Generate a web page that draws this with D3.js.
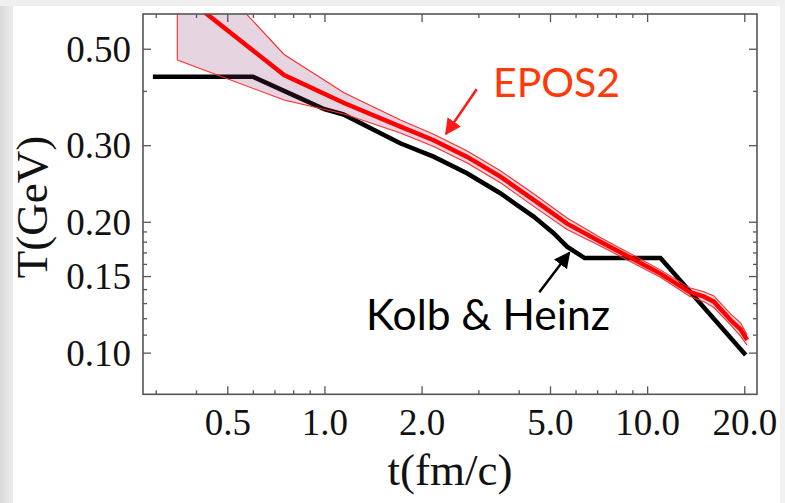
<!DOCTYPE html>
<html><head><meta charset="utf-8">
<script src="https://cdn.jsdelivr.net/npm/d3@7"></script>
<style>html,body{margin:0;padding:0;background:#efefef;overflow:hidden}</style>
</head><body>
<svg id="c" width="785" height="503"></svg>
<script>
// ---- data ----
const tMajor = [0.5, 1, 2, 5, 10, 20];
const tLabels = ["0.5", "1.0", "2.0", "5.0", "10.0", "20.0"];
const tMinor = [0.3, 0.4, 0.6, 0.7, 0.8, 0.9, 3, 4, 6, 7, 8, 9];
const TMajor = [0.10, 0.15, 0.20, 0.30, 0.50];
const TLabels = ["0.10", "0.15", "0.20", "0.30", "0.50"];
const TMinor = [0.11, 0.12, 0.13, 0.14, 0.16, 0.17, 0.18, 0.19, 0.40];

// Kolb & Heinz
const kolbTime = [0.294, 0.6, 0.84, 1.0, 1.145, 1.717, 2.178, 2.765, 3.508, 4.449, 5.131, 5.648, 6.4, 11.0, 20.2];
const kolbTemp = [0.431, 0.431, 0.385, 0.363, 0.353, 0.303, 0.2823, 0.2585, 0.2326, 0.2055, 0.1882, 0.1753, 0.165, 0.165, 0.0988];

// EPOS2
const eposTime = [0.35, 0.75, 1.15, 1.72, 2.18, 2.77, 3.51, 4.45, 5.65, 7.16, 11.0, 13.5, 15.0, 16.1, 18.1, 19.5, 20.4];
const eposMid  = [0.68, 0.435, 0.375, 0.331, 0.308, 0.282, 0.254, 0.2245, 0.198, 0.18, 0.152, 0.138, 0.1345, 0.131, 0.119, 0.113, 0.107];
const eposHigh = [0.89, 0.485, 0.396, 0.343, 0.318, 0.291, 0.262, 0.232, 0.204, 0.184, 0.155, 0.141, 0.138, 0.135, 0.123, 0.117, 0.110];
const eposLow  = [0.471, 0.381, 0.354, 0.320, 0.298, 0.273, 0.246, 0.217, 0.192, 0.176, 0.149, 0.135, 0.131, 0.127, 0.116, 0.109, 0.104];

// ---- layout ----
const svg = d3.select("#c");
const L = 143, R = 757, T = 14, B = 394.3;
const x = d3.scaleLog().domain([0.274, 21.9]).range([L, R]);
const y = d3.scaleLog().domain([0.0802, 0.601]).range([B, T]);

// background
const defs = svg.append("defs");
const lg = defs.append("linearGradient").attr("id", "lg");
lg.append("stop").attr("offset", "0").attr("stop-color", "#d9d9d9");
lg.append("stop").attr("offset", "1").attr("stop-color", "#ececec");
svg.append("rect").attr("x", 0).attr("y", 0).attr("width", 785).attr("height", 503).attr("fill", "#f0f0f0");
svg.append("rect").attr("x", 0).attr("y", 6).attr("width", 13).attr("height", 497).attr("fill", "url(#lg)");
svg.append("rect").attr("x", 13).attr("y", 6).attr("width", 767).attr("height", 497).attr("fill", "#ffffff");

defs.append("clipPath").attr("id", "clip").append("rect")
  .attr("x", L).attr("y", T).attr("width", R - L).attr("height", B - T);

const plot = svg.append("g").attr("clip-path", "url(#clip)");

const line = (xs, ys) => d3.line().x((d, i) => x(xs[i])).y((d, i) => y(ys[i]))(xs);

// black line (under band)
plot.append("path").attr("d", line(kolbTime, kolbTemp))
  .attr("fill", "none").attr("stroke", "#000").attr("stroke-width", 4.5).attr("stroke-linejoin", "miter");

// band
const area = d3.area().x((d, i) => x(eposTime[i])).y0((d, i) => y(eposLow[i])).y1((d, i) => y(eposHigh[i]));
plot.append("path").attr("d", area(eposTime))
  .attr("fill", "#802a64").attr("fill-opacity", 0.2).attr("stroke", "none");
// band edges
plot.append("path").attr("d", line(eposTime, eposHigh)).attr("fill", "none").attr("stroke", "#ff2a2a").attr("stroke-width", 1.1);
plot.append("path").attr("d", line(eposTime, eposLow)).attr("fill", "none").attr("stroke", "#ff2a2a").attr("stroke-width", 1.1);
plot.append("path").attr("d", `M${x(eposTime[0])},${y(eposHigh[0])}L${x(eposTime[0])},${y(eposLow[0])}`)
  .attr("stroke", "#ff2a2a").attr("stroke-width", 1.1);
// central red
plot.append("path").attr("d", line(eposTime, eposMid))
  .attr("fill", "none").attr("stroke", "#ff0000").attr("stroke-width", 4.5);

// ---- axes ----
const axCol = "#555";
const serif = "'Liberation Serif','Times New Roman',serif";
function styleAxis(g) {
  g.select(".domain").remove();
  g.selectAll("line").attr("stroke", axCol).attr("stroke-width", 1.3);
}
// bottom
const gb = svg.append("g").attr("transform", `translate(0,${B})`)
  .call(d3.axisBottom(x).tickValues(tMajor).tickSizeInner(-8).tickSizeOuter(0).tickPadding(14)
    .tickFormat((d, i) => tLabels[i]));
styleAxis(gb);
gb.selectAll("text").attr("font-family", serif).attr("font-size", 37).attr("fill", "#111").attr("dy", "0.71em");
const gbm = svg.append("g").attr("transform", `translate(0,${B})`)
  .call(d3.axisBottom(x).tickValues(tMinor).tickSizeInner(-4).tickSizeOuter(0).tickFormat(""));
styleAxis(gbm);
// top
const gt = svg.append("g").attr("transform", `translate(0,${T})`)
  .call(d3.axisTop(x).tickValues(tMajor).tickSizeInner(-8).tickSizeOuter(0).tickFormat(""));
styleAxis(gt);
const gtm = svg.append("g").attr("transform", `translate(0,${T})`)
  .call(d3.axisTop(x).tickValues(tMinor).tickSizeInner(-4).tickSizeOuter(0).tickFormat(""));
styleAxis(gtm);
// left
const gl = svg.append("g").attr("transform", `translate(${L},0)`)
  .call(d3.axisLeft(y).tickValues(TMajor).tickSizeInner(-8).tickSizeOuter(0).tickPadding(12)
    .tickFormat((d, i) => TLabels[i]));
styleAxis(gl);
gl.selectAll("text").attr("font-family", serif).attr("font-size", 37).attr("fill", "#111").attr("dy", "0.34em");
const glm = svg.append("g").attr("transform", `translate(${L},0)`)
  .call(d3.axisLeft(y).tickValues(TMinor).tickSizeInner(-4).tickSizeOuter(0).tickFormat(""));
styleAxis(glm);
// right
const gr = svg.append("g").attr("transform", `translate(${R},0)`)
  .call(d3.axisRight(y).tickValues(TMajor).tickSizeInner(-8).tickSizeOuter(0).tickFormat(""));
styleAxis(gr);
const grm = svg.append("g").attr("transform", `translate(${R},0)`)
  .call(d3.axisRight(y).tickValues(TMinor).tickSizeInner(-4).tickSizeOuter(0).tickFormat(""));
styleAxis(grm);

// frame
svg.append("rect").attr("x", L).attr("y", T).attr("width", R - L).attr("height", B - T)
  .attr("fill", "none").attr("stroke", axCol).attr("stroke-width", 1.6);

// axis titles
svg.append("text").attr("x", 450).attr("y", 485).attr("text-anchor", "middle")
  .attr("font-family", serif).attr("font-size", 45).attr("fill", "#111")
  .text("t(fm/c)");
svg.append("text").attr("transform", "translate(47,207) rotate(-90)").attr("text-anchor", "middle")
  .attr("font-family", serif).attr("font-size", 45).attr("fill", "#111")
  .text("T(GeV)");

// annotations
defs.append("marker").attr("id", "ahR").attr("viewBox", "0 0 10 10").attr("refX", 9).attr("refY", 5)
  .attr("markerWidth", 6.5).attr("markerHeight", 6.5).attr("markerUnits", "strokeWidth").attr("orient", "auto")
  .append("path").attr("d", "M0,0L10,5L0,10Z").attr("fill", "#ff1a1a");
defs.append("marker").attr("id", "ahK").attr("viewBox", "0 0 10 10").attr("refX", 9).attr("refY", 5)
  .attr("markerWidth", 6.5).attr("markerHeight", 6.5).attr("markerUnits", "strokeWidth").attr("orient", "auto")
  .append("path").attr("d", "M0,0L10,5L0,10Z").attr("fill", "#000");

svg.append("line").attr("x1", 476.7).attr("y1", 89.3).attr("x2", 446).attr("y2", 134)
  .attr("stroke", "#ff1a1a").attr("stroke-width", 2.5).attr("marker-end", "url(#ahR)");
svg.append("line").attr("x1", 539.3).attr("y1", 292.3).attr("x2", 569.3).attr("y2", 252.7)
  .attr("stroke", "#000").attr("stroke-width", 2.5).attr("marker-end", "url(#ahK)");

svg.append("text").attr("x", 493).attr("y", 97).attr("font-family", "Lato,'Open Sans',sans-serif")
  .attr("font-size", 41).attr("fill", "#ff3a0a").text("EPOS2");
svg.append("text").attr("x", 366).attr("y", 330).attr("font-family", "Lato,'Open Sans',sans-serif")
  .attr("font-size", 42.5).attr("fill", "#000").text("Kolb & Heinz");
</script>
</body></html>
